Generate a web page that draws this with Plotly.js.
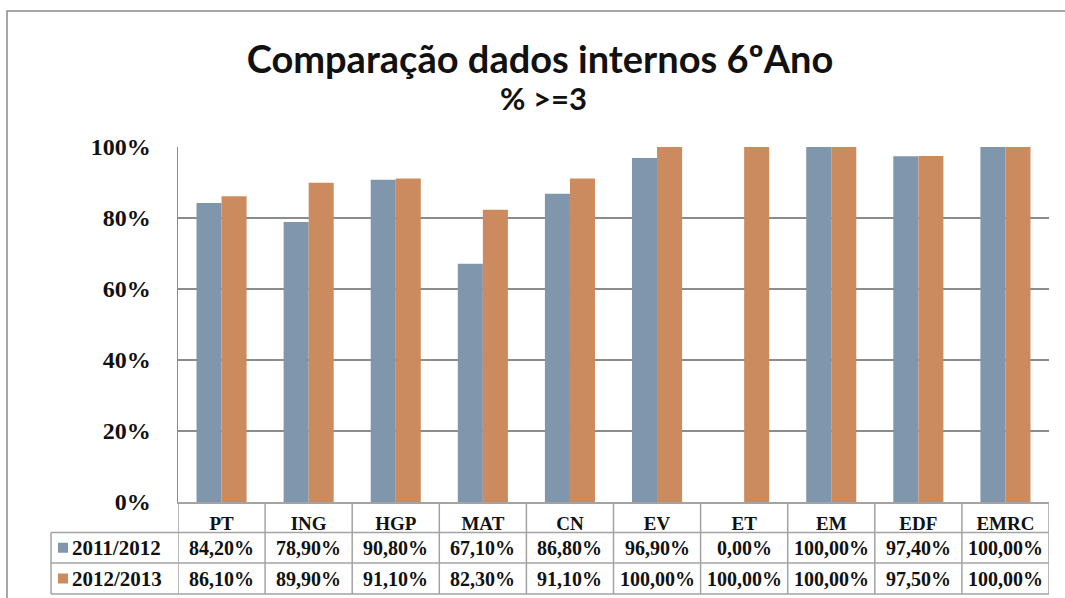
<!DOCTYPE html>
<html>
<head>
<meta charset="utf-8">
<script src="https://cdn.plot.ly/plotly-3.0.1.min.js"></script>
<style>html,body{margin:0;padding:0;background:#fff;}#chart{width:1065px;height:598px;}</style>
</head>
<body>
<div id="chart"></div>
<script>
const categories = ["PT","ING","HGP","MAT","CN","EV","ET","EM","EDF","EMRC"];
const seriesNames = ["2011/2012","2012/2013"];
const values2011 = [84.2, 78.9, 90.8, 67.1, 86.8, 96.9, 0.0, 100.0, 97.4, 100.0];
const values2012 = [86.1, 89.9, 91.1, 82.3, 91.1, 100.0, 100.0, 100.0, 97.5, 100.0];
const yTicks = [0, 0.2, 0.4, 0.6, 0.8, 1.0];
const titleText = "Comparação dados internos 6ºAno";
const subtitleText = "% >=3";
const colors = ["#8096AD", "#CC8B5E"];

const W = 1065, H = 598, L = 178, R = 1049, T = 147, B = 502;
const fx = px => (px - L) / (R - L);
const fy = py => (B - py) / (B - T);
const gridColor = "#8c8c8c";
const tableColor = "#a3a3a3";
const serif = "Liberation Serif, DejaVu Serif, serif";
const sans = "Lato, Liberation Sans, sans-serif";

const series = [values2011, values2012];
const traces = series.map((vals, i) => ({
  type: "bar",
  name: seriesNames[i],
  x: categories,
  y: vals.map(v => v / 100),
  marker: {color: colors[i], line: {width: 0}},
  hoverinfo: "x+y+name"
}));

const rowTops = [502, 532.5, 563, 594];
const shapes = [];
shapes.push({type: "rect", xref: "paper", yref: "paper",
  x0: fx(7), x1: fx(1080), y0: fy(11), y1: fy(620),
  line: {color: "#8a8a8a", width: 1.5}, fillcolor: "rgba(0,0,0,0)", layer: "below"});
for (let k = 0; k <= categories.length; k++) {
  shapes.push({type: "line", xref: "x", yref: "paper",
    x0: k - 0.5, x1: k - 0.5, y0: fy(rowTops[0]), y1: fy(rowTops[3]),
    line: {color: tableColor, width: 1.5}});
}
shapes.push({type: "line", xref: "paper", yref: "paper",
  x0: fx(51), x1: fx(51), y0: fy(rowTops[1]), y1: fy(rowTops[3]),
  line: {color: tableColor, width: 1.5}});
for (let r = 1; r < rowTops.length; r++) {
  shapes.push({type: "line", xref: "paper", yref: "paper",
    x0: fx(51), x1: 1, y0: fy(rowTops[r]), y1: fy(rowTops[r]),
    line: {color: tableColor, width: 1.5}});
}
const annotations = [];
annotations.push({xref: "paper", yref: "paper", x: fx(543), y: fy(98),
  xanchor: "center", yanchor: "middle", showarrow: false,
  text: subtitleText, font: {family: sans, size: 31, color: "#111", weight: "bold"}});
series.forEach((vals, i) => {
  const yc = (rowTops[i + 1] + rowTops[i + 2]) / 2;
  shapes.push({type: "rect", xref: "paper", yref: "paper",
    x0: fx(58), x1: fx(68), y0: fy(yc - 5), y1: fy(yc + 5),
    fillcolor: colors[i], line: {width: 0}});
  annotations.push({xref: "paper", yref: "paper", x: fx(70), y: fy(yc),
    xanchor: "left", yanchor: "middle", showarrow: false,
    text: seriesNames[i], font: {family: serif, size: 21, color: "#111", weight: "bold"}});
  vals.forEach((v, j) => {
    annotations.push({xref: "x", yref: "paper", x: categories[j], y: fy(yc),
      xanchor: "center", yanchor: "middle", showarrow: false,
      text: v.toFixed(2).replace(".", ",") + "%",
      font: {family: serif, size: 20, color: "#111", weight: "bold"}});
  });
});

const layout = {
  width: W, height: H,
  margin: {l: L, r: W - R, t: T, b: H - B, pad: 0},
  paper_bgcolor: "#fff", plot_bgcolor: "#fff",
  showlegend: false,
  barmode: "group", bargap: 0.425, bargroupgap: 0,
  title: {
    text: titleText,
    font: {family: sans, size: 38, color: "#111", weight: "bold"},
    x: 540 / W, xanchor: "center", xref: "container",
    y: 1 - 60 / H, yanchor: "middle", yref: "container"
  },
  xaxis: {
    type: "category", range: [-0.5, categories.length - 0.5],
    showline: true, linecolor: tableColor, linewidth: 1.5,
    showgrid: false, ticks: "", ticklabelstandoff: 4,
    tickfont: {family: serif, size: 19, color: "#111", weight: "bold"},
    fixedrange: true
  },
  yaxis: {
    range: [0, 1], tickvals: yTicks, tickformat: ".0%",
    showline: true, linecolor: gridColor, linewidth: 1.5,
    showgrid: true, gridcolor: gridColor, gridwidth: 1.5,
    zeroline: false, ticks: "", ticklabelstandoff: 21,
    tickfont: {family: serif, size: 24, color: "#111", weight: "bold"},
    fixedrange: true
  },
  shapes: shapes,
  annotations: annotations
};

Plotly.newPlot("chart", traces, layout, {displayModeBar: false, staticPlot: true});
</script>
</body>
</html>
